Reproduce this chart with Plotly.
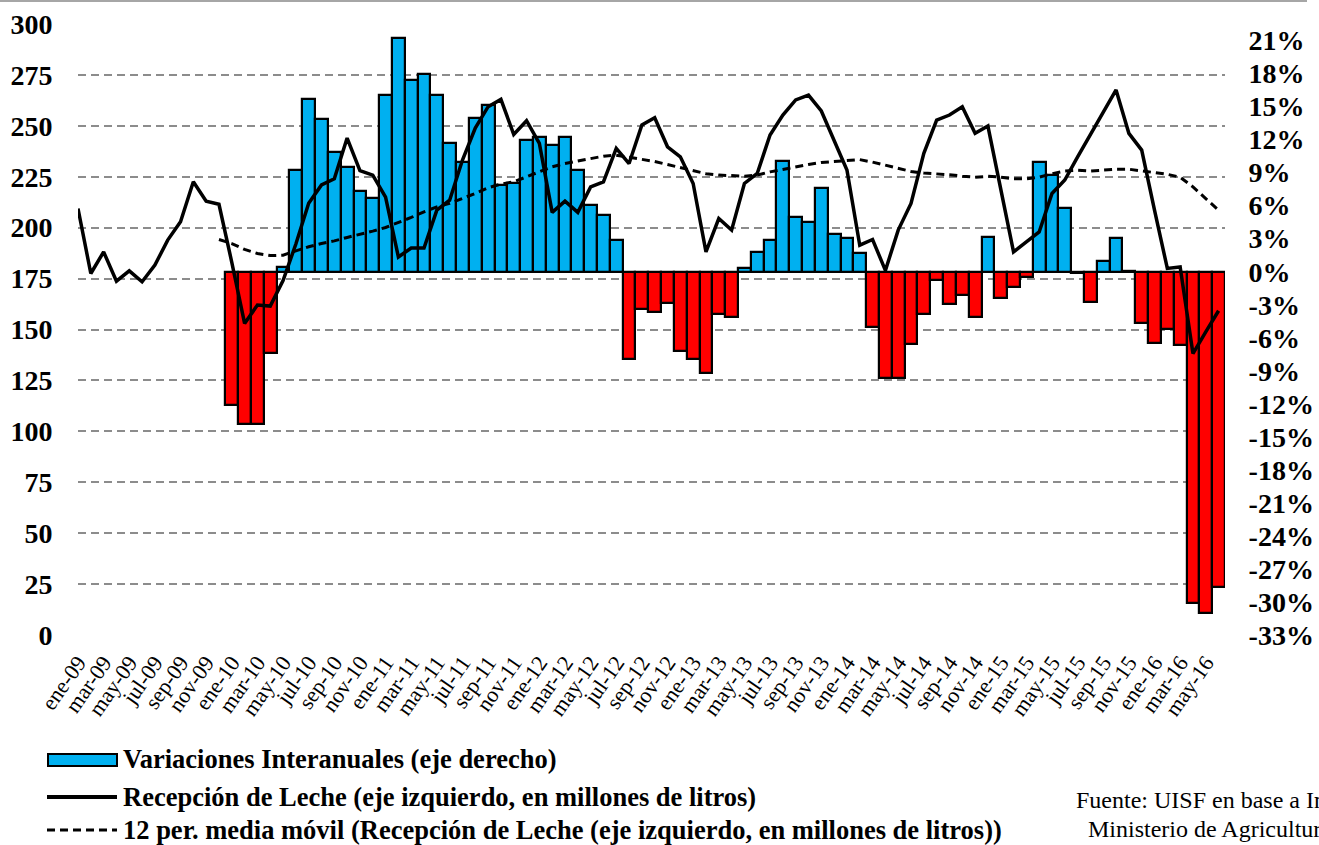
import plotly.graph_objects as go

# ---------------- data ----------------
mes = ["ene", "feb", "mar", "abr", "may", "jun", "jul", "ago", "sep", "oct", "nov", "dic"]
months = [f"{m}-{y:02d}" for y in range(9, 17) for m in mes][:90]  # ene-09 .. jun-16

recepcion = [209.4, 177.5, 188.1, 173.7, 178.8, 173.4, 181.6, 193.9, 202.9, 222.5, 213.0, 211.5,
             183.0, 153.0, 162.0, 161.5, 174.0, 192.0, 212.0, 221.0, 224.0, 244.0, 228.0, 225.8,
             215.0, 185.6, 190.0, 190.0, 208.6, 213.5, 233.2, 248.9, 259.4, 263.0, 245.8, 252.5,
             241.4, 207.5, 213.0, 207.5, 220.0, 222.5, 238.9, 231.5, 250.4, 254.0, 239.7, 234.8,
             221.7, 188.1, 204.5, 198.8, 221.7, 226.6, 245.5, 255.3, 262.7, 265.1, 257.3, 243.0,
             228.3, 191.4, 194.2, 179.0, 198.8, 211.9, 236.5, 252.8, 255.3, 259.4, 246.3, 249.9,
             220.0, 188.1, 193.0, 197.9, 216.8, 223.4, 234.8, 245.5, 256.9, 267.6, 246.3, 238.1,
             208.6, 180.0, 180.7, 138.2, 148.8, 159.2]

media_movil = [194.2,
               192.2, 189.3, 187.3, 186.3, 186.5, 188.6, 190.6, 192.2, 193.5, 195.2, 196.7, 198.3,
               200.1, 202.4, 205.0, 207.8, 210.2, 211.9, 214.3, 216.8, 219.6, 221.4, 222.5, 225.0,
               227.4, 229.9, 231.5, 232.8, 234.0, 235.1, 235.6, 234.5, 233.5, 232.5, 231.0, 229.5,
               227.8, 226.5, 225.8, 225.5, 225.3, 225.8, 227.4, 228.6, 229.9, 231.0, 232.0, 232.5,
               233.0, 233.4, 232.2, 230.6, 229.0, 227.6, 226.8, 226.5, 226.0, 225.3, 224.8, 225.2,
               224.8, 224.0, 224.0, 224.8, 226.5, 227.8, 228.2, 227.8, 228.2, 228.7, 228.7, 227.8,
               226.8, 226.2, 224.8, 220.0, 214.3, 208.6]

variacion = [-12.1, -13.85, -13.85, -7.4, 0.4, 9.25, 15.7, 13.85, 10.9, 9.55, 7.3, 6.67,
             16.06, 21.2, 17.4, 18.0, 16.06, 11.67, 10.0, 13.95, 15.15, 7.9, 8.04, 11.97,
             12.27, 11.5, 12.2, 9.25, 6.06, 5.15, 2.88, -7.97, -3.4, -3.7, -2.8, -7.2,
             -7.97, -9.2, -3.85, -4.1, 0.36, 1.8, 2.88, 10.06, 5.0, 4.55, 7.58, 3.4,
             3.03, 1.73, -5.0, -9.7, -9.7, -6.6, -3.8, -0.75, -2.9, -2.1, -4.1, 3.18,
             -2.4, -1.42, -0.45, 9.95, 8.8, 5.76, -0.15, -2.73, 0.97, 3.03, 0.05, -4.65,
             -6.45, -5.24, -6.66, -30.1, -31.0, -28.6]

tick_labels = months[::2]
left_ticks = list(range(0, 301, 25))
right_ticks = list(range(-33, 22, 3))

# ---------------- styling ----------------
W, H = 1319, 845
L, R, T, B = 78, W - 1225, 24, H - 635
SERIF = "Liberation Serif, Times New Roman, serif"
BLUE, RED = "#00B0F0", "#FF0000"


def xp(px):
    return (px - L) / (W - L - R)


def yp(py):
    return (H - B - py) / (H - T - B)


bar_colors = [BLUE if v >= 0 else RED for v in variacion]

fig = go.Figure()
fig.add_trace(go.Bar(
    x=months[len(months) - len(variacion):], y=variacion, yaxis="y",
    marker=dict(color=bar_colors, line=dict(color="black", width=2.2)),
    name="Variaciones Interanuales (eje derecho)", showlegend=False,
))
fig.add_trace(go.Scatter(
    x=months, y=recepcion, yaxis="y2", mode="lines",
    line=dict(color="black", width=3.5),
    name="Recepción de Leche (eje izquierdo, en millones de litros)", showlegend=False,
))
fig.add_trace(go.Scatter(
    x=months[len(months) - len(media_movil):], y=media_movil, yaxis="y2", mode="lines",
    line=dict(color="black", width=3, dash="8px,5px"),
    name="12 per. media móvil", showlegend=False,
))

fig.update_layout(
    width=W, height=H, margin=dict(l=L, r=R, t=T, b=B, pad=0, autoexpand=False),
    paper_bgcolor="white", plot_bgcolor="white", bargap=0,
    font=dict(family=SERIF, color="black"),
    xaxis=dict(type="category", categoryorder="array", categoryarray=months,
               tickmode="array", tickvals=tick_labels, ticktext=tick_labels,
               tickangle=-55, tickfont=dict(family=SERIF, size=22, color="black"),
               ticks="outside", ticklen=5, tickcolor="rgba(0,0,0,0)", automargin=False,
               showgrid=False, showline=False, zeroline=False),
    yaxis=dict(side="right", range=[-33, 22.5], tickmode="array", tickvals=right_ticks,
               ticktext=[f"{t}%" for t in right_ticks],
               tickfont=dict(family=SERIF, size=28, color="black", weight="bold"),
               ticks="outside", ticklen=17, tickcolor="rgba(0,0,0,0)", automargin=False,
               showgrid=False, zeroline=False, showline=False),
    yaxis2=dict(side="left", overlaying="y", range=[0, 300], tickmode="array",
                tickvals=left_ticks,
                tickfont=dict(family=SERIF, size=28, color="black", weight="bold"),
                ticks="outside", ticklen=19, tickcolor="rgba(0,0,0,0)", automargin=False,
                showgrid=True, gridcolor="#8c8c8c", gridwidth=2, griddash="8px,5px",
                zeroline=False, showline=False),
)

shapes = [
    dict(type="line", xref="paper", yref="paper", x0=xp(0), x1=xp(1307), y0=yp(1), y1=yp(1),
         line=dict(color="#a6a6a6", width=2)),
    dict(type="rect", xref="paper", yref="paper", x0=xp(48), x1=xp(117), y0=yp(754), y1=yp(766),
         fillcolor=BLUE, line=dict(color="black", width=2)),
    dict(type="line", xref="paper", yref="paper", x0=xp(47), x1=xp(117), y0=yp(797), y1=yp(797),
         line=dict(color="black", width=4)),
    dict(type="line", xref="paper", yref="paper", x0=xp(47), x1=xp(117), y0=yp(830), y1=yp(830),
         line=dict(color="black", width=3, dash="8px,5px")),
]

legend_texts = [
    ("Variaciones Interanuales (eje derecho)", 759),
    ("Recepción de Leche (eje izquierdo, en millones de litros)", 797),
    ("12 per. media móvil (Recepción de Leche (eje izquierdo, en millones de litros))", 830),
]
annotations = [
    dict(text=t, xref="paper", yref="paper", x=xp(121), y=yp(py), xanchor="left",
         yanchor="middle", showarrow=False,
         font=dict(family=SERIF, size=26.5, color="black", weight="bold"))
    for t, py in legend_texts
]
annotations += [
    dict(text="Fuente: UISF en base a Información del", xref="paper", yref="paper",
         x=xp(1074), y=yp(800), xanchor="left", yanchor="middle", showarrow=False,
         font=dict(family=SERIF, size=24, color="black")),
    dict(text="Ministerio de Agricultura y Pesca", xref="paper", yref="paper",
         x=xp(1086), y=yp(829), xanchor="left", yanchor="middle", showarrow=False,
         font=dict(family=SERIF, size=24, color="black")),
]
fig.update_layout(shapes=shapes, annotations=annotations)

fig.write_html("out.html", config={"displayModeBar": False},
               post_script="document.body.style.margin='0';document.body.style.overflow='hidden';")
